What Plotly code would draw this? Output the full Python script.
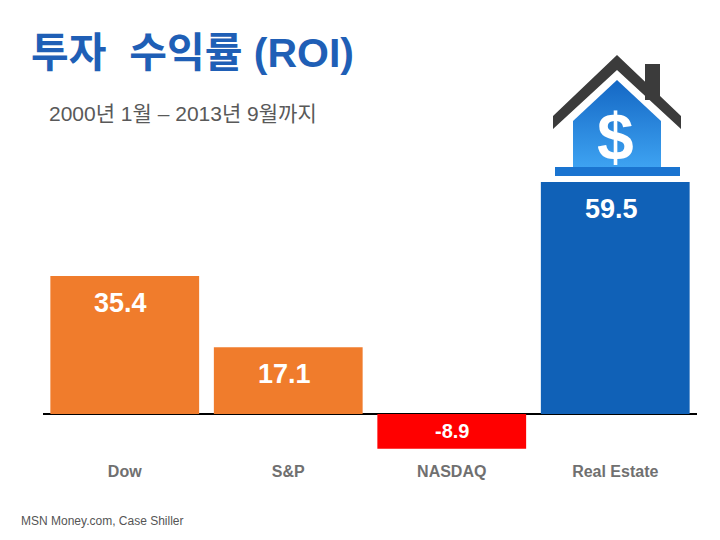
import plotly.graph_objects as go

# values
categories = ['Dow', 'S&P', 'NASDAQ', 'Real Estate']
roi = [35.4, 17.1, -8.9, 59.5]
bar_colors = ['#f07c2c', '#f07c2c', '#ff0000', '#1061b7']

title_text = '<b>투자  수익률 (ROI)</b>'
subtitle_text = '2000년 1월 – 2013년 9월까지'
source_text = 'MSN Money.com, Case Shiller'

W, H = 720, 540
FONT = 'Liberation Sans, Arial, Noto Sans CJK KR'

fig = go.Figure()

fig.add_trace(go.Bar(
    x=categories,
    y=roi,
    marker=dict(color=bar_colors, line_width=0),
    width=0.91,
    hoverinfo='skip',
    showlegend=False,
))

# value labels near the top of each bar (middle for the negative one)
for cat, val in zip(categories, roi):
    if val >= 0:
        fig.add_annotation(x=cat, y=val, yshift=-27, xshift=-4, text=f'<b>{val}</b>',
                           showarrow=False, yanchor='middle',
                           font=dict(family=FONT, size=27, color='white'))
    else:
        fig.add_annotation(x=cat, y=val / 2, text=f'<b>{val}</b>',
                           showarrow=False, yanchor='middle',
                           font=dict(family=FONT, size=20, color='white'))

# --- house icon, drawn on a pixel-sized full-canvas axis pair (x2/y2) ---
roof = 'M 553 116 L 617 55 L 681 116 L 681 129 L 617 70 L 553 129 Z'
fig.add_shape(type='path', path=roof, xref='x2', yref='y2',
              fillcolor='#3b3b3b', line_width=0)
fig.add_shape(type='rect', x0=645, x1=660, y0=64, y1=100, xref='x2', yref='y2',
              fillcolor='#3b3b3b', line_width=0)

body_x = [573, 573, 617, 661, 661, 573]
body_y = [168, 121, 80, 121, 168, 168]
fig.add_trace(go.Scatter(
    x=body_x, y=body_y, xaxis='x2', yaxis='y2',
    mode='lines', line=dict(width=0), fill='toself',
    fillgradient=dict(type='vertical',
                      colorscale=[[0, '#3ea3f2'], [1, '#1467c4']]),
    hoverinfo='skip', showlegend=False,
))
fig.add_shape(type='rect', xref='x2', yref='y2', x0=555, x1=680, y0=167, y1=176,
              fillcolor='#1a74d0', line_width=0)
fig.add_annotation(x=615, y=137, xref='x2', yref='y2', text='<b>$</b>',
                   showarrow=False, font=dict(family=FONT, size=66, color='white'))

# --- texts ---
fig.add_annotation(x=29, y=53, xref='x2', yref='y2', text=title_text,
                   showarrow=False, xanchor='left', yanchor='middle',
                   font=dict(family='Liberation Sans, Noto Sans CJK KR', size=41,
                             color='#1f5fb6'))
fig.add_annotation(x=47, y=113, xref='x2', yref='y2', text=subtitle_text,
                   showarrow=False, xanchor='left', yanchor='middle',
                   font=dict(family=FONT, size=21, color='#595959'))
fig.add_annotation(x=19, y=521, xref='x2', yref='y2', text=source_text,
                   showarrow=False, xanchor='left', yanchor='middle',
                   font=dict(family=FONT, size=12, color='#555555'))

fig.update_layout(
    width=W, height=H,
    margin=dict(l=0, r=0, t=0, b=0),
    plot_bgcolor='rgba(0,0,0,0)', paper_bgcolor='white',
    bargap=0.09,
    xaxis=dict(domain=[43 / W, 697 / W], showgrid=False, showline=False,
               ticks='', tickfont=dict(family=FONT, size=16, color='#707070'),
               tickprefix='<b>', ticksuffix='</b>', fixedrange=True),
    yaxis=dict(domain=[80 / H, 440 / H], range=[-11.8, 80.5], showgrid=False,
               showticklabels=False, zeroline=True, zerolinecolor='black',
               zerolinewidth=2, layer='above traces', fixedrange=True),
    xaxis2=dict(domain=[0, 1], range=[0, W], visible=False, anchor='y2',
                fixedrange=True),
    yaxis2=dict(domain=[0, 1], range=[H, 0], visible=False, anchor='x2',
                fixedrange=True),
)

fig.write_html('out.html', config={'displayModeBar': False},
               post_script="document.body.style.margin='0';")
